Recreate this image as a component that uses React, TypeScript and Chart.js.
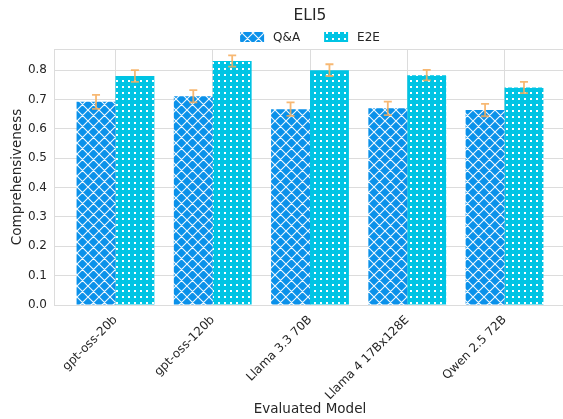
import { useEffect, useRef } from "react";
import { Chart, registerables } from "chart.js";

Chart.register(...registerables);

const categories = ["gpt-oss-20b", "gpt-oss-120b", "Llama 3.3 70B", "Llama 4 17Bx128E", "Qwen 2.5 72B"];
const seriesNames = ["Q&A", "E2E"];
const qaValues = [0.692, 0.711, 0.667, 0.670, 0.664];
const e2eValues = [0.780, 0.831, 0.800, 0.783, 0.741];
const qaErrors = [0.024, 0.021, 0.023, 0.023, 0.021];
const e2eErrors = [0.020, 0.019, 0.020, 0.018, 0.019];
const yTickValues = [0, 0.1, 0.2, 0.3, 0.4, 0.5, 0.6, 0.7, 0.8];
const titleText = "ELI5";
const xTitle = "Evaluated Model";
const yTitle = "Comprehensiveness";

const FONT = "DejaVu Sans";
const TEXT = "#262626";
const GRID = "#dcdcdc";
const QA_COLOR = "#0a91ea";
const E2E_COLOR = "#00c4e4";
const ERR_COLOR = "rgba(246,172,90,0.85)";

function makeHatch(bg: string): CanvasPattern {
  const s = 11;
  const c = document.createElement("canvas");
  c.width = s;
  c.height = s;
  const g = c.getContext("2d")!;
  g.fillStyle = bg;
  g.fillRect(0, 0, s, s);
  g.strokeStyle = "rgba(255,255,255,0.95)";
  g.lineWidth = 1.1;
  g.beginPath();
  for (const o of [-s, 0, s]) {
    g.moveTo(o, 0);
    g.lineTo(o + s, s);
    g.moveTo(o, s);
    g.lineTo(o + s, 0);
  }
  g.stroke();
  return g.createPattern(c, "repeat")!;
}

function makeDots(bg: string): CanvasPattern {
  const s = 6;
  const c = document.createElement("canvas");
  c.width = s;
  c.height = s;
  const g = c.getContext("2d")!;
  g.fillStyle = bg;
  g.fillRect(0, 0, s, s);
  g.fillStyle = "#ffffff";
  g.fillRect(2, 2, 2, 2);
  return g.createPattern(c, "repeat")!;
}

const valueSets = [qaValues, e2eValues];
const errorSets = [qaErrors, e2eErrors];

const overlay = {
  id: "overlay",
  afterDatasetsDraw(chart: any) {
    const ctx = chart.ctx;
    const y = chart.scales.y;
    ctx.save();
    ctx.strokeStyle = ERR_COLOR;
    ctx.lineWidth = 1.8;
    chart.data.datasets.forEach((_ds: any, di: number) => {
      const meta = chart.getDatasetMeta(di);
      meta.data.forEach((el: any, i: number) => {
        const v = valueSets[di][i];
        const e = errorSets[di][i];
        const x = el.x;
        const yt = y.getPixelForValue(v + e);
        const yb = y.getPixelForValue(v - e);
        ctx.beginPath();
        ctx.moveTo(x, yt);
        ctx.lineTo(x, yb);
        ctx.moveTo(x - 4, yt);
        ctx.lineTo(x + 4, yt);
        ctx.moveTo(x - 4, yb);
        ctx.lineTo(x + 4, yb);
        ctx.stroke();
      });
    });
    ctx.restore();
  },
  afterDraw(chart: any) {
    const ctx = chart.ctx;
    const area = chart.chartArea;
    const cx = (area.left + area.right) / 2;
    ctx.save();
    ctx.strokeStyle = GRID;
    ctx.lineWidth = 1;
    ctx.beginPath();
    ctx.moveTo(area.left, area.top + 0.5);
    ctx.lineTo(area.right, area.top + 0.5);
    ctx.stroke();
    ctx.fillStyle = TEXT;
    ctx.font = `15.5px "${FONT}"`;
    ctx.textAlign = "center";
    ctx.textBaseline = "alphabetic";
    ctx.fillText(titleText, cx, 20);
    ctx.font = `12px "${FONT}"`;
    ctx.textAlign = "left";
    const boxW = 24;
    const boxH = 10;
    const gapText = 9;
    const gapItem = 24;
    const widths = seriesNames.map((n) => boxW + gapText + ctx.measureText(n).width);
    const total = widths.reduce((a, b) => a + b, 0) + gapItem * (widths.length - 1);
    let x = cx - total / 2;
    seriesNames.forEach((n, i) => {
      ctx.fillStyle = chart.data.datasets[i].backgroundColor;
      ctx.fillRect(x, 32, boxW, boxH);
      ctx.fillStyle = TEXT;
      ctx.fillText(n, x + boxW + gapText, 41);
      x += widths[i] + gapItem;
    });
    ctx.restore();
  },
};

export default function App() {
  const ref = useRef<HTMLCanvasElement>(null);
  useEffect(() => {
    document.body.style.margin = "0";
    document.body.style.overflow = "hidden";
    const qaPattern = makeHatch(QA_COLOR);
    const e2ePattern = makeDots(E2E_COLOR);
    const chart = new Chart(ref.current!, {
      type: "bar",
      data: {
        datasets: [
          {
            label: seriesNames[0],
            data: categories.map((_, i) => ({ x: i, y: qaValues[i] })),
            backgroundColor: qaPattern as any,
            borderWidth: 0,
            categoryPercentage: 0.8,
            barPercentage: 1.0,
          },
          {
            label: seriesNames[1],
            data: categories.map((_, i) => ({ x: i, y: e2eValues[i] })),
            backgroundColor: e2ePattern as any,
            borderWidth: 0,
            categoryPercentage: 0.8,
            barPercentage: 1.0,
          },
        ],
      },
      options: {
        animation: false,
        responsive: false,
        layout: { padding: { top: 49, left: 0, right: 4, bottom: 0 } },
        plugins: {
          legend: { display: false },
          title: { display: false },
          tooltip: { enabled: false },
        },
        scales: {
          x: {
            type: "linear",
            offset: false,
            min: -0.632,
            max: 4.632,
            afterBuildTicks: (s: any) => {
              s.ticks = categories.map((_, i) => ({ value: i }));
            },
            afterFit: (s: any) => {
              s.height = 114;
            },
            ticks: {
              autoSkip: false,
              minRotation: 45,
              maxRotation: 45,
              padding: 8,
              color: TEXT,
              font: { family: FONT, size: 12 },
              callback: (v: any) => categories[Math.round(Number(v))] ?? "",
            },
            grid: { color: GRID, lineWidth: 1, drawTicks: false, offset: false },
            border: { color: GRID, width: 1 },
            title: {
              display: true,
              text: xTitle,
              color: TEXT,
              font: { family: FONT, size: 13.5 },
              padding: { top: 0, bottom: 1.5 },
            },
          },
          y: {
            min: 0,
            max: 0.872,
            afterBuildTicks: (s: any) => {
              s.ticks = yTickValues.map((v) => ({ value: v }));
            },
            afterFit: (s: any) => {
              s.width = 54;
            },
            ticks: {
              padding: 7,
              color: TEXT,
              font: { family: FONT, size: 12 },
              callback: (v: any) => Number(v).toFixed(1),
            },
            grid: { color: GRID, lineWidth: 1, drawTicks: false },
            border: { color: GRID, width: 1 },
            title: {
              display: true,
              text: yTitle,
              color: TEXT,
              font: { family: FONT, size: 13.5 },
              padding: { top: 9, bottom: 0 },
            },
          },
        },
      },
      plugins: [overlay],
    });
    return () => chart.destroy();
  }, []);
  return (
    <div
      style={{
        position: "fixed",
        left: 0,
        top: 0,
        width: 563,
        height: 419,
        overflow: "hidden",
        background: "#ffffff",
      }}
    >
      <canvas ref={ref} width={570} height={419} style={{ display: "block", width: 570, height: 419 }} />
    </div>
  );
}
